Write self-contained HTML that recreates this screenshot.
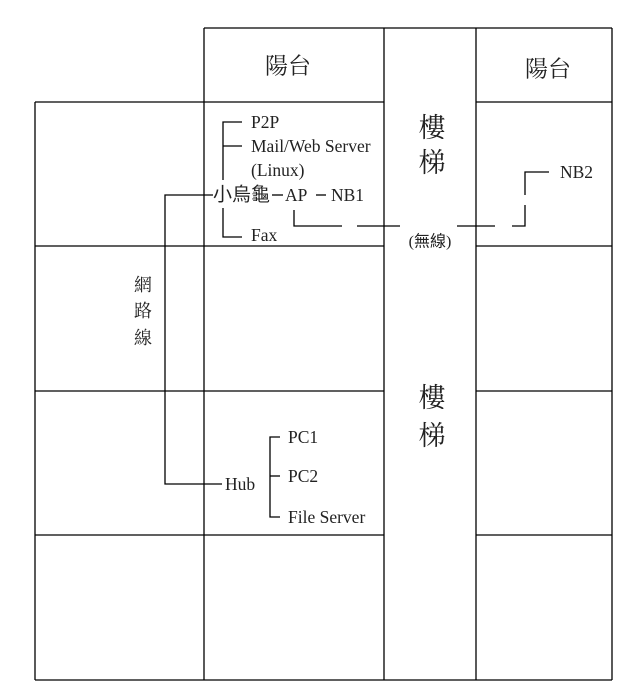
<!DOCTYPE html>
<html><head><meta charset="utf-8"><style>
body{margin:0;background:#fff;width:640px;height:687px;overflow:hidden}
svg{display:block}
text{font-family:"Liberation Serif","Noto Serif CJK SC","Noto Sans CJK TC",serif;fill:#222}
.c{font-family:"Liberation Serif","Noto Sans CJK TC",sans-serif}
</style></head><body>
<svg width="640" height="687" viewBox="0 0 640 687" xmlns="http://www.w3.org/2000/svg">
<g stroke="#000" stroke-width="1.3" fill="none">
<line x1="204" y1="28" x2="612" y2="28"/>
<line x1="35" y1="102" x2="384" y2="102"/><line x1="476" y1="102" x2="612" y2="102"/>
<line x1="35" y1="246" x2="384" y2="246"/><line x1="476" y1="246" x2="612" y2="246"/>
<line x1="35" y1="391" x2="384" y2="391"/><line x1="476" y1="391" x2="612" y2="391"/>
<line x1="35" y1="535" x2="384" y2="535"/><line x1="476" y1="535" x2="612" y2="535"/>
<line x1="35" y1="680" x2="612" y2="680"/>
<line x1="35" y1="102" x2="35" y2="680"/>
<line x1="204" y1="28" x2="204" y2="680"/>
<line x1="384" y1="28" x2="384" y2="680"/>
<line x1="476" y1="28" x2="476" y2="680"/>
<line x1="612" y1="28" x2="612" y2="680"/>
<polyline points="223,180 223,122 242,122"/>
<line x1="223" y1="146" x2="242" y2="146"/>
<polyline points="223,208 223,237 242,237"/>
<polyline points="213,195 165,195 165,484 222,484"/>
<line x1="272" y1="195" x2="283" y2="195"/>
<line x1="316" y1="195" x2="326" y2="195"/>
<polyline points="294,210 294,226 342,226"/>
<line x1="357" y1="226" x2="400" y2="226"/>
<line x1="457" y1="226" x2="495" y2="226"/>
<polyline points="512,226 525,226 525,205"/>
<polyline points="525,195 525,172 549,172"/>
<polyline points="280,437 270,437 270,517 280,517"/>
<line x1="270" y1="476" x2="280" y2="476"/>
</g>
<g font-size="17.5" dominant-baseline="central">
<text x="251" y="122">P2P</text>
<text x="251" y="146">Mail/Web Server</text>
<text x="251" y="170">(Linux)</text>
<text x="213" y="195" class="c" font-size="19">小烏龜</text>
<text x="285" y="195">AP</text>
<text x="331" y="195">NB1</text>
<text x="251" y="235">Fax</text>
<text x="560" y="172">NB2</text>
<text x="430" y="242" text-anchor="middle" class="c" font-size="16">(無線)</text>
<text x="225" y="484">Hub</text>
<text x="288" y="437">PC1</text>
<text x="288" y="476">PC2</text>
<text x="288" y="517">File Server</text>
</g>
<g class="c" text-anchor="middle" dominant-baseline="central">
<text x="288" y="66" font-size="23">陽台</text>
<text x="548" y="69" font-size="23">陽台</text>
<text x="432" y="128" font-size="27">樓</text>
<text x="432" y="163" font-size="27">梯</text>
<text x="432" y="398" font-size="27">樓</text>
<text x="432" y="436" font-size="27">梯</text>
<text x="143" y="285" font-size="18">網</text>
<text x="143" y="311" font-size="18">路</text>
<text x="143" y="338" font-size="18">線</text>
</g>
</svg>
</body></html>
